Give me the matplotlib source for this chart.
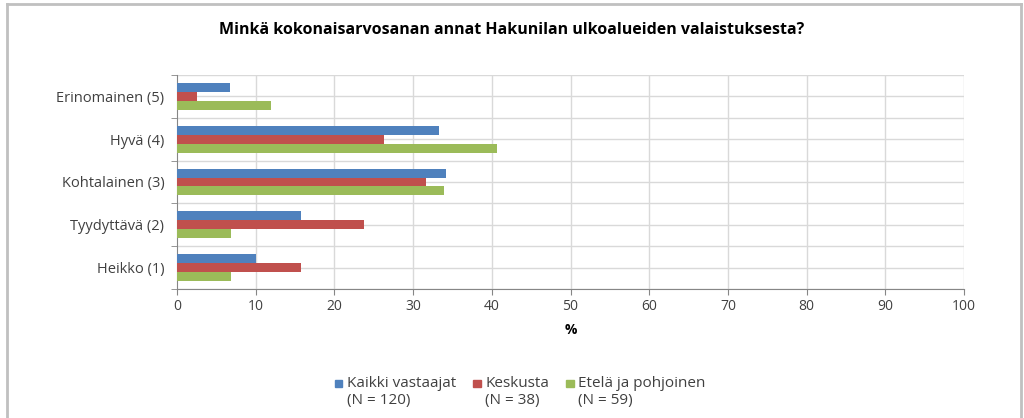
import numpy as np
import matplotlib
matplotlib.use("Agg")
import matplotlib.pyplot as plt
from matplotlib.lines import Line2D
from matplotlib.patches import Patch, Rectangle
from matplotlib.legend_handler import HandlerPatch

plt.rcParams['font.family'] = ['Open Sans', 'DejaVu Sans']

# Data (%), categories from bottom to top
kategoriat = ["Heikko (1)", "Tyydyttävä (2)", "Kohtalainen (3)", "Hyvä (4)", "Erinomainen (5)"]
kaikki = [10.0, 15.8, 34.2, 33.3, 6.7]
keskusta = [15.8, 23.7, 31.6, 26.3, 2.6]
etela_pohjoinen = [6.8, 6.8, 33.9, 40.7, 11.9]

sarjat = ["Kaikki vastaajat\n(N = 120)", "Keskusta\n(N = 38)", "Etelä ja pohjoinen\n(N = 59)"]
varit = ["#4F81BD", "#C0504D", "#9BBB59"]

fig = plt.figure(figsize=(10.24, 4.18), dpi=100)
ax = fig.add_axes([177/1024, 1 - 289/418, (964 - 177)/1024, (289 - 75)/418])

y = np.arange(len(kategoriat))
h = 0.21
for arvot, off, c in zip([kaikki, keskusta, etela_pohjoinen], [h, 0, -h], varit):
    ax.barh(y + off, arvot, height=h, color=c, zorder=3)

ax.set_xlim(0, 100)
ax.set_ylim(-0.5, len(kategoriat) - 0.5)
ax.set_xticks(np.arange(0, 101, 10))
ax.set_yticks(y)
ax.set_yticklabels(kategoriat)
ax.set_yticks(np.arange(-0.5, len(kategoriat), 1), minor=True)
ax.tick_params(axis='y', which='major', length=0, labelsize=10.5, colors='#404040', pad=9)
ax.tick_params(axis='y', which='minor', length=4, color='#868686')
ax.tick_params(axis='x', length=4, color='#868686', labelsize=10, labelcolor='#404040')

# gridlines every half category and every 10 %
for yy in np.arange(-0.5, len(kategoriat), 0.5):
    ax.axhline(yy, color='#d9d9d9', lw=1, zorder=1)
for xx in np.arange(10, 101, 10):
    ax.axvline(xx, color='#d9d9d9', lw=1, zorder=1)

for s in ['top', 'right']:
    ax.spines[s].set_visible(False)
for s in ['left', 'bottom']:
    ax.spines[s].set_color('#868686')

ax.set_xlabel("%", fontweight='bold', fontsize=10, labelpad=6)

fig.text(0.5, 1 - 30/418, "Minkä kokonaisarvosanan annat Hakunilan ulkoalueiden valaistuksesta?",
         ha='center', va='center', fontsize=11.5, fontweight='bold',
         family=['Liberation Sans Narrow', 'Open Sans', 'DejaVu Sans'])


# legend square sits next to the first text line
def top_square(legend, orig_handle, xdescent, ydescent, width, height, fontsize):
    sq = 0.5 * fontsize
    return Rectangle((-xdescent, -ydescent + height - sq + 0.1 * fontsize), sq, sq)


handles = [Patch(color=c) for c in varit]
fig.legend(handles, sarjat, loc='center', bbox_to_anchor=(0.508, 1 - 392/418),
           ncol=3, frameon=False, fontsize=11, handlelength=0.5, handleheight=1.9,
           handletextpad=0.3, columnspacing=1.1, labelcolor='#404040',
           handler_map={Patch: HandlerPatch(patch_func=top_square)})

# outer chart border
bc = '#c0c0c0'
fig.add_artist(Line2D([7/1024, 7/1024], [0, 1 - 4/418], color=bc, lw=2))
fig.add_artist(Line2D([7/1024, 1021/1024], [1 - 4/418, 1 - 4/418], color=bc, lw=2))
fig.add_artist(Line2D([1021/1024, 1021/1024], [0, 1 - 4/418], color=bc, lw=2))

fig.savefig("out.png", dpi=100, facecolor='white')
